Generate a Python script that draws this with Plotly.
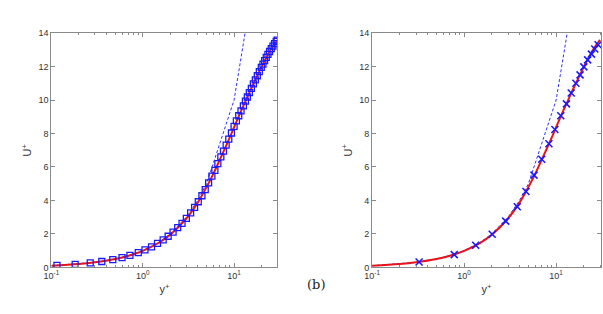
import plotly.graph_objects as go
from plotly.subplots import make_subplots

# Reference (red) velocity profile
ref_yplus = [0.1, 0.2, 0.3, 0.5, 0.7, 1.0, 1.5, 2.0, 3.0, 4.0, 5.0, 6.0, 7.0, 8.0, 9.0,
             10.0, 12.0, 14.0, 16.0, 18.0, 20.0, 22.0, 25.0, 28.0, 30.0]
ref_U = [0.1, 0.2, 0.3, 0.495, 0.69, 0.985, 1.47, 1.95, 2.92, 3.87, 4.8, 5.65, 6.45, 7.15, 7.78,
         8.38, 9.38, 10.19, 10.88, 11.46, 11.98, 12.42, 12.98, 13.38, 13.6]

# Linear law U+ = y+ (dashed)
lin_yplus = [0.1, 0.2, 0.3, 0.5, 0.7, 1.0, 1.5, 2.0, 3.0, 4.0, 5.0, 10.0, 20.0]
lin_U = [0.1, 0.2, 0.3, 0.5, 0.7, 1.0, 1.5, 2.0, 3.0, 4.0, 5.0, 10.0, 20.0]

# Left panel: square markers
sq_yplus = [0.115, 0.182, 0.266, 0.356, 0.470, 0.593, 0.724, 0.893, 1.057, 1.248, 1.451, 1.673,
            1.897, 2.148, 2.414, 2.692, 3.000, 3.345, 3.696, 4.053, 4.443, 4.831, 5.260, 5.715,
            6.163, 6.643, 7.161, 7.656, 8.185, 8.750, 9.355, 10.0, 10.60, 11.24, 11.91, 12.64,
            13.30, 13.97, 14.69, 15.45, 16.25, 17.08, 17.96, 18.89, 19.86, 20.70, 21.59, 22.51,
            23.47, 24.47, 25.52, 26.61, 27.75, 28.93, 29.6]
sq_U = [0.115, 0.18, 0.265, 0.35, 0.465, 0.585, 0.715, 0.88, 1.04, 1.23, 1.43, 1.645,
        1.86, 2.11, 2.37, 2.63, 2.93, 3.26, 3.58, 3.92, 4.28, 4.64, 5.05, 5.45,
        5.8, 6.2, 6.6, 6.95, 7.3, 7.66, 8.03, 8.42, 8.75, 9.06, 9.35, 9.65,
        9.93, 10.18, 10.44, 10.7, 10.96, 11.2, 11.45, 11.7, 11.95, 12.15, 12.35, 12.55,
        12.73, 12.9, 13.07, 13.22, 13.37, 13.5, 13.58]

# Right panel: cross markers
x_yplus = [0.324, 0.782, 1.336, 2.02, 2.83, 3.78, 4.7, 5.75, 6.97, 8.35, 9.7, 11.24, 12.95,
           14.6, 16.4, 18.2, 20.0, 22.0, 24.2, 26.3, 28.6]
x_U = [0.32, 0.76, 1.32, 1.98, 2.76, 3.62, 4.53, 5.51, 6.46, 7.39, 8.24, 9.06, 9.77,
       10.42, 11.0, 11.5, 11.98, 12.4, 12.74, 13.05, 13.3]

y_ticks = [0, 2, 4, 6, 8, 10, 12, 14]
x_tickvals = [0.1, 1, 10]
x_ticktext = ["10<sup>-1</sup>", "10<sup>0</sup>", "10<sup>1</sup>"]

BLUE = "#1a1aff"
RED = "#e8131b"
AXC = "#8a8a8a"
FONT = "Liberation Sans"

fig = make_subplots(rows=1, cols=2)

for col, (mx, my, sym, msize, mw) in enumerate(
        [(sq_yplus, sq_U, "square-open", 6, 1.3), (x_yplus, x_U, "x-thin-open", 7, 1.6)], start=1):
    fig.add_trace(go.Scatter(x=lin_yplus, y=lin_U, mode="lines",
                             line=dict(color=BLUE, width=0.9, dash="3px,2px"),
                             showlegend=False), row=1, col=col)
    fig.add_trace(go.Scatter(x=ref_yplus, y=ref_U, mode="lines", line_shape="spline",
                             line=dict(color=RED, width=2),
                             showlegend=False), row=1, col=col)
    fig.add_trace(go.Scatter(x=mx, y=my, mode="markers",
                             marker=dict(symbol=sym, size=msize, color=BLUE,
                                         line=dict(color=BLUE, width=mw)),
                             showlegend=False), row=1, col=col)

minor_vals = [d * 10.0 ** e for e in (-1, 0, 1) for d in range(2, 10)]

common_x = dict(type="log", tickvals=x_tickvals, ticktext=x_ticktext, ticks="inside",
                ticklen=4, tickcolor=AXC, showline=True, linecolor=AXC, linewidth=1,
                mirror="ticks", showgrid=False, zeroline=False,
                tickfont=dict(family=FONT, size=9, color="#333"),
                minor=dict(tickvals=minor_vals, ticks="inside", ticklen=2, tickcolor=AXC),
                title=dict(text="y<sup>+</sup>", font=dict(family=FONT, size=11, color="#333"),
                           standoff=5))
common_y = dict(range=[0, 14], tickvals=y_ticks, ticks="inside", ticklen=4, tickcolor=AXC,
                showline=True, linecolor=AXC, linewidth=1, mirror="ticks", showgrid=False,
                zeroline=False, tickfont=dict(family=FONT, size=9, color="#333"),
                title=dict(text="U<sup>+</sup>", font=dict(family=FONT, size=11, color="#333"),
                           standoff=4))

fig.update_xaxes(**common_x)
fig.update_yaxes(**common_y)
fig.update_xaxes(range=[-1, 1.474], domain=[44 / 603, 273 / 603], row=1, col=1)
fig.update_xaxes(range=[-1, 1.488], domain=[369 / 603, 601 / 603], row=1, col=2)
fig.update_yaxes(domain=[1 - 271 / 314, 1 - 29 / 314])

fig.add_annotation(text="(b)", xref="paper", yref="paper", x=312 / 603, y=1 - 298 / 314,
                   showarrow=False, font=dict(family="DejaVu Serif", size=13, color="#222"))

fig.update_layout(width=603, height=314, margin=dict(l=0, r=0, t=0, b=0),
                  paper_bgcolor="white", plot_bgcolor="white", showlegend=False)

fig.write_html("out.html")
